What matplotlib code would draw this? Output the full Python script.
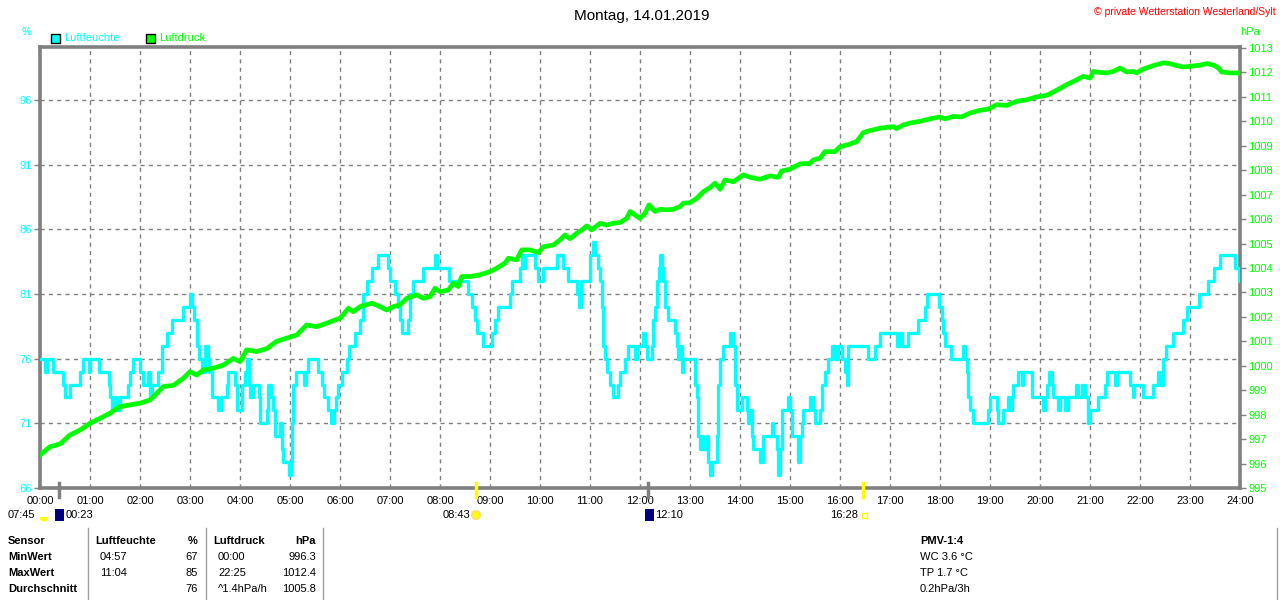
"""Tagesgrafik Luftfeuchte / Luftdruck, Wetterstation Westerland/Sylt, 14.01.2019."""
import matplotlib
matplotlib.use("Agg")
import matplotlib.pyplot as plt
from matplotlib.patches import Rectangle, Wedge, Circle

plt.rcParams["font.family"] = ["Liberation Sans", "DejaVu Sans"]

CYAN = "#00ffff"
GREEN = "#00ff00"
GREY = "#808080"

# --- data ----------------------------------------------------------------
# humidity, step series: value holds from t until the next t (hours)
hum_t = [0, 0.1, 0.133, 0.267, 0.45, 0.5, 0.59, 0.8, 0.853, 0.97, 1.0, 1.18,
         1.38, 1.4, 1.433, 1.5, 1.53, 1.6, 1.75, 1.8, 1.85, 2.0, 2.067, 2.167,
         2.2, 2.233, 2.367, 2.433, 2.533, 2.633, 2.867, 3.0, 3.04, 3.08, 3.133,
         3.18, 3.233, 3.3, 3.35, 3.38, 3.433, 3.567, 3.61, 3.733, 3.767, 3.9,
         3.933, 4.03, 4.1, 4.133, 4.18, 4.2, 4.25, 4.37, 4.4, 4.53, 4.567, 4.61,
         4.65, 4.7, 4.79, 4.83, 4.867, 4.97, 5.01, 5.04, 5.067, 5.11, 5.28,
         5.32, 5.367, 5.55, 5.63, 5.68, 5.75, 5.81, 5.88, 5.92, 5.967, 6.03,
         6.133, 6.18, 6.3, 6.4, 6.467, 6.533, 6.633, 6.767, 6.967, 7.0, 7.1,
         7.167, 7.2, 7.233, 7.36, 7.4, 7.467, 7.667, 7.9, 7.93, 8.17, 8.567,
         8.633, 8.7, 8.733, 8.867, 9.033, 9.1, 9.167, 9.4, 9.433, 9.6, 9.633,
         9.667, 9.7, 9.9, 9.967, 10.067, 10.333, 10.467, 10.567, 10.733,
         10.787, 10.82, 11.0, 11.05, 11.1, 11.15, 11.2, 11.233, 11.267, 11.3,
         11.333, 11.4, 11.467, 11.567, 11.6, 11.7, 11.767, 11.9, 11.933,
         12.053, 12.1, 12.133, 12.233, 12.267, 12.3, 12.333, 12.38, 12.4,
         12.44, 12.467, 12.5, 12.567, 12.7, 12.733, 12.767, 12.8, 12.833,
         12.867, 13.1, 13.133, 13.167, 13.2, 13.233, 13.267, 13.333, 13.367,
         13.4, 13.433, 13.533, 13.567, 13.6, 13.667, 13.8, 13.867, 13.9,
         13.933, 14.033, 14.133, 14.167, 14.2, 14.233, 14.267, 14.4, 14.467,
         14.633, 14.667, 14.733, 14.767, 14.8, 14.833, 14.95, 15.0, 15.033,
         15.167, 15.2, 15.233, 15.267, 15.4, 15.467, 15.5, 15.6, 15.633, 15.7,
         15.767, 15.833, 15.9, 15.967, 16.033, 16.1, 16.133, 16.167, 16.567,
         16.7, 16.8, 17.133, 17.2, 17.233, 17.367, 17.567, 17.7, 17.747,
         17.987, 18.033, 18.067, 18.1, 18.213, 18.467, 18.5, 18.533, 18.567,
         18.6, 18.653, 18.967, 19.0, 19.133, 19.167, 19.267, 19.367, 19.4,
         19.433, 19.467, 19.567, 19.64, 19.667, 19.833, 20.05, 20.1, 20.133,
         20.18, 20.233, 20.267, 20.367, 20.4, 20.5, 20.567, 20.72, 20.767,
         20.833, 20.9, 20.96, 21.0, 21.167, 21.3, 21.333, 21.5, 21.533, 21.8,
         21.85, 21.88, 22.05, 22.267, 22.367, 22.4, 22.467, 22.52, 22.667,
         22.867, 22.933, 23.187, 23.367, 23.48, 23.6, 23.9, 23.987, 24.0]
hum_v = [76, 75, 76, 75, 74, 73, 74, 75, 76, 75, 76, 75,
         74, 73, 72, 73, 72, 73, 74, 75, 76, 75, 74, 75,
         73, 74, 75, 77, 78, 79, 80, 81, 80, 79, 77,
         76, 75, 77, 76, 75, 73, 72, 73, 74, 75, 74,
         72, 74, 75, 76, 74, 73, 74, 73, 71, 72, 74, 73,
         72, 70, 71, 69, 68, 67, 68, 71, 74, 75, 74,
         75, 76, 75, 74, 73, 72, 71, 72, 73, 74, 75,
         76, 77, 78, 79, 81, 82, 83, 84, 83, 82, 81,
         80, 79, 78, 79, 81, 82, 83, 84, 83, 82, 81,
         80, 79, 78, 77, 78, 79, 80, 81, 82, 83, 84,
         83, 84, 83, 82, 83, 84, 83, 82, 81,
         80, 82, 84, 85, 84, 83, 82, 80, 77, 76,
         75, 74, 73, 74, 75, 76, 77, 76, 77,
         78, 77, 76, 77, 79, 80, 82, 83, 84,
         83, 82, 80, 79, 78, 77, 76, 77, 75,
         76, 74, 73, 70, 69, 70, 69, 70, 68,
         67, 68, 70, 74, 76, 77, 78, 77, 74,
         72, 73, 72, 71, 72, 70, 69, 68, 70,
         71, 70, 69, 67, 69, 72, 73, 72, 70,
         68, 70, 71, 72, 73, 72, 71, 72, 74, 75,
         76, 77, 76, 77, 76, 75, 74, 77, 76,
         77, 78, 77, 78, 77, 78, 79, 80, 81,
         80, 79, 78, 77, 76, 77, 76, 75, 73,
         72, 71, 72, 73, 72, 71, 72, 73, 72,
         73, 74, 75, 74, 75, 73, 72, 73, 74,
         75, 74, 73, 72, 73, 72, 73, 74, 73,
         74, 73, 71, 72, 73, 74, 75, 74, 75, 74,
         73, 74, 73, 74, 75, 74, 76, 77, 78,
         79, 80, 81, 82, 83, 84, 83, 82, 82]

# pressure (hPa)
pres_t = [0, 0.2, 0.4, 0.6, 0.8, 1.0, 1.2, 1.4, 1.6, 1.8, 2.0, 2.2, 2.333,
          2.467, 2.667, 2.867, 3.0, 3.133, 3.267, 3.467, 3.667, 3.867, 4.0,
          4.133, 4.333, 4.533, 4.733, 4.933, 5.133, 5.333, 5.533, 5.733,
          5.933, 6.0, 6.167, 6.267, 6.4, 6.633, 6.8, 6.933, 7.067, 7.2, 7.333,
          7.533, 7.667, 7.8, 7.9, 8.0, 8.167, 8.267, 8.367, 8.433, 8.6, 8.8,
          9.0, 9.133, 9.3, 9.367, 9.533, 9.633, 9.8, 9.967, 10.067, 10.267,
          10.4, 10.5, 10.6, 10.733, 10.867, 10.933, 11.033, 11.2, 11.333,
          11.467, 11.6, 11.733, 11.8, 11.9, 12.0, 12.1, 12.18, 12.3, 12.4,
          12.533, 12.667, 12.8, 12.867, 13.0, 13.133, 13.267, 13.4, 13.5,
          13.6, 13.7, 13.867, 14.067, 14.2, 14.4, 14.6, 14.767, 14.833, 15.0,
          15.2, 15.4, 15.467, 15.6, 15.7, 15.9, 16.0, 16.2, 16.333, 16.467,
          16.6, 16.8, 17.067, 17.133, 17.267, 17.4, 17.6, 17.8, 18.0, 18.1,
          18.267, 18.433, 18.6, 18.8, 18.967, 19.133, 19.333, 19.533, 19.733,
          19.933, 20.133, 20.333, 20.533, 20.667, 20.867, 21.0, 21.067, 21.2,
          21.333, 21.467, 21.6, 21.733, 21.867, 21.933, 22.067, 22.267,
          22.467, 22.6, 22.733, 22.867, 23.0, 23.2, 23.333, 23.467, 23.567,
          23.633, 23.8, 24.0]
pres_v = [996.35, 996.69, 996.8, 997.17, 997.37, 997.65, 997.85, 998.06,
          998.33, 998.4, 998.47, 998.6, 998.87, 999.15, 999.2, 999.49, 999.76,
          999.62, 999.83, 999.9, 1000.03, 1000.3, 1000.17, 1000.65, 1000.58,
          1000.7, 1001.0, 1001.13, 1001.26, 1001.67, 1001.6, 1001.74, 1001.9,
          1001.94, 1002.35, 1002.21, 1002.42, 1002.56, 1002.42, 1002.28,
          1002.42, 1002.49, 1002.76, 1002.9, 1002.76, 1002.83, 1003.17,
          1003.03, 1003.1, 1003.38, 1003.24, 1003.65, 1003.65, 1003.72,
          1003.85, 1003.99, 1004.2, 1004.4, 1004.33, 1004.74, 1004.74,
          1004.63, 1004.87, 1004.94, 1005.15, 1005.35, 1005.2, 1005.42,
          1005.6, 1005.72, 1005.56, 1005.83, 1005.76, 1005.83, 1005.86,
          1006.03, 1006.31, 1006.17, 1006.03, 1006.24, 1006.58, 1006.31,
          1006.4, 1006.38, 1006.4, 1006.51, 1006.65, 1006.67, 1006.85,
          1007.12, 1007.29, 1007.47, 1007.22, 1007.6, 1007.53, 1007.81,
          1007.71, 1007.63, 1007.77, 1007.71, 1007.97, 1008.04, 1008.26,
          1008.28, 1008.42, 1008.49, 1008.76, 1008.76, 1008.96, 1009.07,
          1009.17, 1009.54, 1009.62, 1009.72, 1009.78, 1009.7, 1009.85,
          1009.93, 1010.0, 1010.1, 1010.18, 1010.1, 1010.2, 1010.18, 1010.34,
          1010.45, 1010.5, 1010.68, 1010.65, 1010.82, 1010.88, 1011.0,
          1011.06, 1011.27, 1011.5, 1011.63, 1011.84, 1011.77, 1012.04,
          1012.0, 1011.98, 1012.04, 1012.18, 1012.02, 1012.04, 1011.98,
          1012.14, 1012.28, 1012.39, 1012.36, 1012.28, 1012.22, 1012.25,
          1012.3, 1012.36, 1012.3, 1012.18, 1012.02, 1011.98, 1011.98]

hours = list(range(25))
hour_labels = [f"{h:02d}:00" for h in hours]
hum_ticks = [66, 71, 76, 81, 86, 91, 96]
pres_ticks = list(range(995, 1014))

# sun / moon events below the time axis: (hour, colour of the marker)
events = [(0.383, GREY), (8.717, "#ffff00"), (12.167, GREY), (16.467, "#ffff00")]

table_header = ["Sensor", "Luftfeuchte", "%", "Luftdruck", "hPa"]
table_rows = [
    ["MinWert", "04:57", "67", "00:00", "996.3"],
    ["MaxWert", "11:04", "85", "22:25", "1012.4"],
    ["Durchschnitt", "", "76", "^1.4hPa/h", "1005.8"],
]
pmv_lines = ["PMV-1:4", "WC 3.6 °C", "TP 1.7 °C", "0.2hPa/3h"]

FS = 8

# --- figure --------------------------------------------------------------
W, H = 1280, 600
fig = plt.figure(figsize=(W / 100, H / 100), dpi=100)
fig.patch.set_facecolor("white")

ax = fig.add_axes([40 / W, 1 - 488 / H, 1200 / W, 441 / H])
ax.set_xlim(0, 24)
ax.set_ylim(66, 100.1)
ax.set_xticks(hours)
ax.set_xticklabels(hour_labels, fontsize=FS)
ax.set_yticks(hum_ticks)
ax.set_yticklabels([str(v) for v in hum_ticks], fontsize=FS, color=CYAN)
ax.tick_params(axis="x", length=0, pad=6)
ax.tick_params(axis="y", length=4, color=GREY, width=1, pad=2)
ax.grid(True, color=GREY, linestyle=(0, (3, 3)), linewidth=1)
for s in ax.spines.values():
    s.set_color(GREY)
    s.set_linewidth(2.6)

ax2 = ax.twinx()
ax2.set_ylim(995, 1013.04)
ax2.set_yticks(pres_ticks)
ax2.set_yticklabels([str(v) for v in pres_ticks], fontsize=FS, color=GREEN)
ax2.tick_params(axis="y", length=4, color=GREY, width=1, pad=2)
for s in ax2.spines.values():
    s.set_visible(False)

ax.step(hum_t, hum_v, where="post", color=CYAN, linewidth=2.4, zorder=3)
ax2.plot(pres_t, pres_v, color=GREEN, linewidth=3.4, zorder=4)

# event ticks on the time axis
for t, c in events:
    ax.plot([t, t], [0.012, -0.02], transform=ax.get_xaxis_transform(),
            color=c, linewidth=2.5, clip_on=False, zorder=5)

# --- overlay in pixel coordinates for texts, icons and the table ----------
ov = fig.add_axes([0, 0, 1, 1], facecolor="none")
ov.set_xlim(0, W)
ov.set_ylim(H, 0)
ov.axis("off")

ov.text(642, 16, "Montag, 14.01.2019", ha="center", va="center", fontsize=11)
ov.text(1276, 12, "© private Wetterstation Westerland/Sylt", ha="right",
        va="center", fontsize=7.5, color="#ff0000")
ov.text(27, 32, "%", ha="center", va="center", fontsize=FS, color=CYAN)
ov.text(1250, 32, "hPa", ha="center", va="center", fontsize=FS, color=GREEN)

ov.add_patch(Rectangle((50.5, 33.5), 9, 9, facecolor=CYAN, edgecolor="black", lw=1))
ov.text(64, 38, "Luftfeuchte", va="center", fontsize=FS, color=CYAN)
ov.add_patch(Rectangle((145.5, 33.5), 9, 9, facecolor=GREEN, edgecolor="black", lw=1))
ov.text(159, 38, "Luftdruck", va="center", fontsize=FS, color=GREEN)

# sunrise / sunset / moon labels
EY = 515
ov.text(8, EY, "07:45", va="center", fontsize=FS)
ov.add_patch(Wedge((44, EY + 2), 4.5, 0, 180, facecolor="#ffff00", edgecolor="none"))
ov.add_patch(Rectangle((55, EY - 6), 9, 12, facecolor="#000080"))
ov.text(66, EY, "00:23", va="center", fontsize=FS)
ov.text(443, EY, "08:43", va="center", fontsize=FS)
ov.add_patch(Circle((476, EY), 4, facecolor="#ffff00", edgecolor="#ffe060", lw=1.5))
ov.add_patch(Rectangle((645, EY - 6), 9, 12, facecolor="#000080"))
ov.text(655, EY, "12:10", va="center", fontsize=FS)
ov.text(830, EY, "16:28", va="center", fontsize=FS)
ov.add_patch(Rectangle((861.5, EY - 2.5), 5, 5, facecolor="none", edgecolor="#ffff00", lw=1))

# statistics table
row_y = [541, 557, 573, 589]
col_x = [8, 95, 198, 213, 316]
col_ha = ["left", "left", "right", "left", "right"]
for x, ha, txt in zip(col_x, col_ha, table_header):
    ov.text(x, row_y[0], txt, ha=ha, va="center", fontsize=FS, fontweight="bold")
for y, row in zip(row_y[1:], table_rows):
    ov.text(col_x[0], y, row[0], va="center", fontsize=FS, fontweight="bold")
    ov.text(100, y, row[1], va="center", fontsize=FS)
    ov.text(col_x[2], y, row[2], ha="right", va="center", fontsize=FS)
    ov.text(218, y, row[3], va="center", fontsize=FS)
    ov.text(col_x[4], y, row[4], ha="right", va="center", fontsize=FS)
for x in (88, 206, 323, 1277):
    ov.plot([x, x], [528, 600], color="#a0a0a0", linewidth=1)

for i, (y, txt) in enumerate(zip(row_y, pmv_lines)):
    ov.text(920, y, txt, va="center", fontsize=FS,
            fontweight="bold" if i == 0 else "normal")

fig.savefig("out.png", dpi=100)
